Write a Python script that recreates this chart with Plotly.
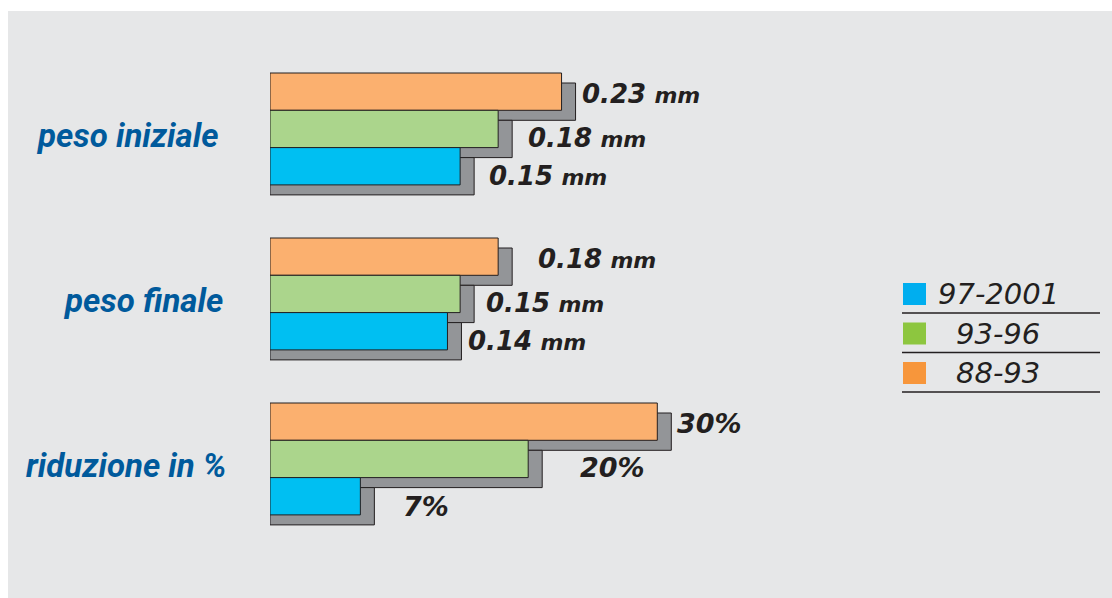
import plotly.graph_objects as go

# ---------------- data ----------------
series = ["97-2001", "93-96", "88-93"]
categories_mm = ["peso iniziale", "peso finale"]
category_pct = ["riduzione in %"]

mm_97_2001 = [0.15, 0.14]
mm_93_96 = [0.18, 0.15]
mm_88_93 = [0.23, 0.18]

pct_97_2001 = [7]
pct_93_96 = [20]
pct_88_93 = [30]

# ---------------- style / layout constants ----------------
W, H = 1112, 598
L, R, T, B = 270, 242, 46, 57
PW, PH = W - L - R, H - T - B
K_MM = 1267.6     # px per mm
K_PCT = 12.91     # px per percent
PITCH = PH / 3.0  # px per category
BAR_PX = 37.3
SH_DX, SH_DY = 14, 10

bar_colors = {"97-2001": "#00bff2", "93-96": "#abd58c", "88-93": "#fbb06f"}
legend_colors = {"97-2001": "#00aeef", "93-96": "#8dc63f", "88-93": "#f7963b"}
shadow_color = "#939598"
edge = "#231f20"
cat_color = "#005a9c"

bw = BAR_PX / PITCH
top0 = -0.5 + (73 - T) / PITCH  # top of first bar relative to category centre
offsets = {"88-93": top0, "93-96": top0 + bw, "97-2001": top0 + 2 * bw}

def px(x):
    return (x - L) / PW

def py(y):
    return (H - B - y) / PH

mm_vals = {"97-2001": mm_97_2001, "93-96": mm_93_96, "88-93": mm_88_93}
pct_vals = {"97-2001": pct_97_2001, "93-96": pct_93_96, "88-93": pct_88_93}

fig = go.Figure()

# shadows first
for s in ["88-93", "93-96", "97-2001"]:
    fig.add_trace(go.Bar(
        y=categories_mm, x=[v + SH_DX / K_MM for v in mm_vals[s]], orientation="h",
        width=bw, offset=offsets[s] + SH_DY / PITCH,
        marker=dict(color=shadow_color, line=dict(color=edge, width=1)),
        xaxis="x", yaxis="y", showlegend=False, hoverinfo="skip"))
    fig.add_trace(go.Bar(
        y=category_pct, x=[v + SH_DX / K_PCT for v in pct_vals[s]], orientation="h",
        width=bw, offset=offsets[s] + SH_DY / PITCH,
        marker=dict(color=shadow_color, line=dict(color=edge, width=1)),
        xaxis="x2", yaxis="y", showlegend=False, hoverinfo="skip"))

# coloured bars
for s in ["88-93", "93-96", "97-2001"]:
    fig.add_trace(go.Bar(
        y=categories_mm, x=mm_vals[s], orientation="h", name=s,
        width=bw, offset=offsets[s],
        marker=dict(color=bar_colors[s], line=dict(color=edge, width=1)),
        xaxis="x", yaxis="y", showlegend=False))
    fig.add_trace(go.Bar(
        y=category_pct, x=pct_vals[s], orientation="h", name=s,
        width=bw, offset=offsets[s],
        marker=dict(color=bar_colors[s], line=dict(color=edge, width=1)),
        xaxis="x2", yaxis="y", showlegend=False))

annotations = []
shapes = []

# background panel
shapes.append(dict(type="rect", xref="paper", yref="paper",
                   x0=px(8), x1=px(W + 2), y0=py(H + 2), y1=py(11),
                   fillcolor="#e6e7e8", line=dict(width=0), layer="below"))

# category labels
cat_font = dict(family="Roboto, Arial", size=33, color=cat_color)
cat_right = {"peso iniziale": 220, "peso finale": 225, "riduzione in %": 229}
for c in categories_mm + category_pct:
    annotations.append(dict(xref="paper", yref="y", x=px(cat_right[c]), y=c, yshift=-7,
                            text="<b><i>" + c + "</i></b>", showarrow=False,
                            xanchor="right", yanchor="middle", font=cat_font))

# value labels
lab_font = dict(family="DejaVu Sans", size=26, color=edge)
label_dx = {("peso iniziale", "88-93"): 4, ("peso iniziale", "93-96"): 14, ("peso iniziale", "97-2001"): 13,
            ("peso finale", "88-93"): 24, ("peso finale", "93-96"): 10, ("peso finale", "97-2001"): 5,
            ("riduzione in %", "88-93"): 4, ("riduzione in %", "93-96"): 36, ("riduzione in %", "97-2001"): 27}
label_dy = {"88-93": -2, "93-96": -9, "97-2001": -10}
for s in series:
    yc = offsets[s] + bw / 2
    for c, v in zip(categories_mm, mm_vals[s]):
        annotations.append(dict(
            xref="x", yref="y", x=v, y=c, xshift=SH_DX + label_dx[(c, s)],
            yshift=-yc * PITCH + label_dy[s],
            text="<b><i>%.2f</i></b> <b><i><span style='font-size:22px'>mm</span></i></b>" % v,
            showarrow=False, xanchor="left", yanchor="middle", font=lab_font))
    for c, v in zip(category_pct, pct_vals[s]):
        annotations.append(dict(
            xref="x2", yref="y", x=v, y=c, xshift=SH_DX + label_dx[(c, s)],
            yshift=-yc * PITCH + label_dy[s],
            text="<b><i>%d%%</i></b>" % v,
            showarrow=False, xanchor="left", yanchor="middle", font=dict(lab_font, size=27)))

# custom legend
leg_font = dict(family="DejaVu Sans", size=29, color=edge)
for i, s in enumerate(series):
    top = 283 + i * 39.5
    shapes.append(dict(type="rect", xref="paper", yref="paper",
                       x0=px(903), x1=px(926), y0=py(top + 22), y1=py(top),
                       fillcolor=legend_colors[s], line=dict(width=0)))
    shapes.append(dict(type="line", xref="paper", yref="paper",
                       x0=px(902), x1=px(1100), y0=py(top + 30), y1=py(top + 30),
                       line=dict(color=edge, width=1.3)))
    annotations.append(dict(xref="paper", yref="paper", x=px(998), y=py(top + 11),
                            text="<i>" + s + "</i>", showarrow=False,
                            xanchor="center", yanchor="middle", font=leg_font))

fig.update_layout(
    width=W, height=H, margin=dict(l=L, r=R, t=T, b=B, pad=0),
    paper_bgcolor="white", plot_bgcolor="rgba(0,0,0,0)",
    barmode="overlay", showlegend=False,
    xaxis=dict(range=[0, PW / K_MM], visible=False, fixedrange=True),
    xaxis2=dict(range=[0, PW / K_PCT], overlaying="x", anchor="y", visible=False, fixedrange=True),
    yaxis=dict(type="category", categoryarray=categories_mm + category_pct,
               range=[2.5, -0.5], visible=False, fixedrange=True),
    shapes=shapes, annotations=annotations,
)

fig.write_html("out.html", config={"displayModeBar": False})
